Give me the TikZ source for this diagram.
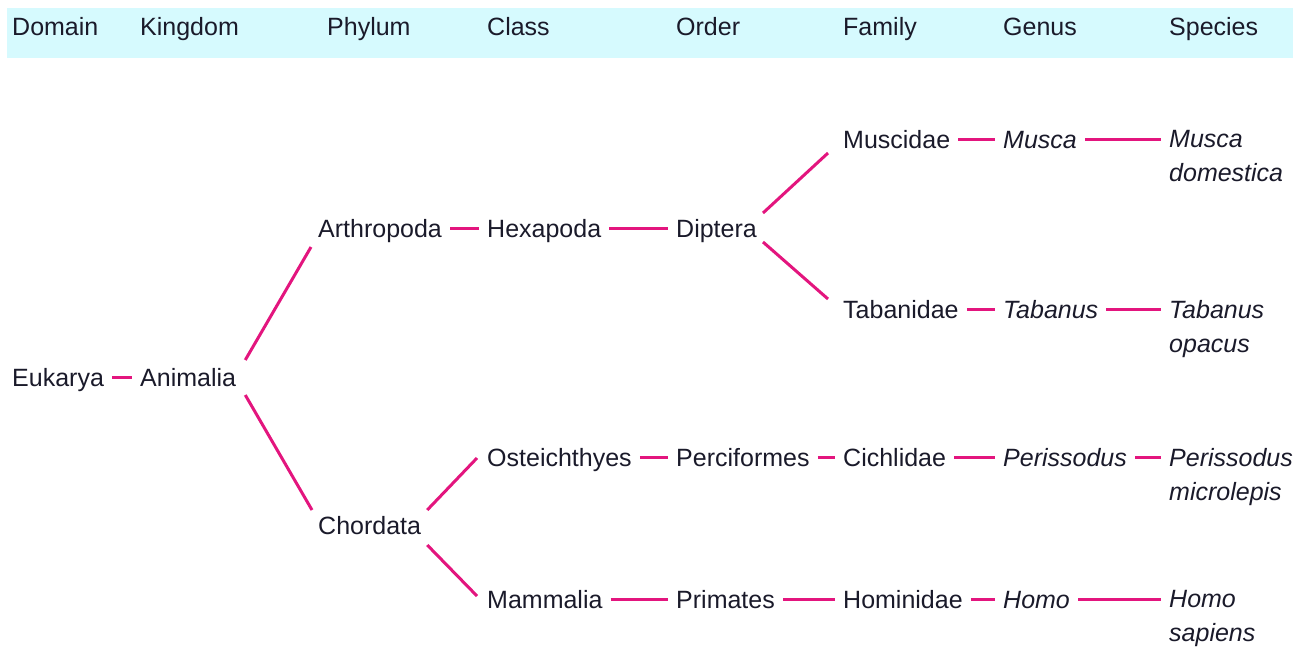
\documentclass[tikz,border=0pt]{standalone}
\usepackage{fontspec}
\setmainfont{Liberation Sans}
\usetikzlibrary{calc}
\definecolor{band}{HTML}{D6FAFE}
\definecolor{link}{HTML}{E3157E}
\definecolor{ink}{HTML}{1A1A2A}
\begin{document}
\begin{tikzpicture}[x=1pt,y=-1pt,
 tx/.style={anchor=west,inner xsep=8pt,inner ysep=0pt,text height=18pt,text depth=0pt,font=\fontsize{25}{30}\selectfont,text=ink},
 it/.style={tx,font=\fontsize{25}{30}\selectfont\itshape},
 sp/.style={anchor=north west,inner xsep=8pt,inner ysep=0pt,align=left,font=\fontsize{25}{34}\selectfont\itshape,text=ink},
 hd/.style={anchor=west,inner sep=0pt,text height=18pt,text depth=0pt,font=\fontsize{25}{30}\selectfont,text=ink},
 ln/.style={draw=link,line width=3pt}]
\useasboundingbox (0,0) rectangle (1304,648);
\fill[band] (7,8) rectangle (1293,58);
% header
\node[hd] (hdomain) at (12,26) {Domain};
\node[hd] (hkingdom) at (140,26) {Kingdom};
\node[hd] (hphylum) at (327,26) {Phylum};
\node[hd] (hclass) at (487,26) {Class};
\node[hd] (horder) at (676,26) {Order};
\node[hd] (hfamily) at (843,26) {Family};
\node[hd] (hgenus) at (1003,26) {Genus};
\node[hd] (hspecies) at (1169,26) {Species};
% taxa
\node[tx] (eukarya) at (4,377) {Eukarya};
\node[tx] (animalia) at (132,377) {Animalia};
\node[tx] (arthropoda) at (310,228) {Arthropoda};
\node[tx] (chordata) at (310,525) {Chordata};
\node[tx] (hexapoda) at (479,228) {Hexapoda};
\node[tx] (diptera) at (668,228) {Diptera};
\node[tx] (osteich) at (479,457) {Osteichthyes};
\node[tx] (mammalia) at (479,599) {Mammalia};
\node[tx] (muscidae) at (835,139) {Muscidae};
\node[tx] (tabanidae) at (835,309) {Tabanidae};
\node[tx] (perciformes) at (668,457) {Perciformes};
\node[tx] (primates) at (668,599) {Primates};
\node[tx] (cichlidae) at (835,457) {Cichlidae};
\node[tx] (hominidae) at (835,599) {Hominidae};
\node[it] (musca) at (995,139) {Musca};
\node[it] (tabanus) at (995,309) {Tabanus};
\node[it] (perissodus) at (995,457) {Perissodus};
\node[it] (homo) at (995,599) {Homo};
\node[sp] (sp1) at (1161,130) {Musca\\domestica};
\node[sp] (sp2) at (1161,300) {Tabanus\\opacus};
\node[sp] (sp3) at (1161,448) {Perissodus\\microlepis};
\node[sp] (sp4) at (1161,590) {Homo\\sapiens};
% connectors
\draw[ln] (eukarya.east) -- (animalia.west);
\draw[ln] ($(animalia.east)+(1,-17)$) -- ($(arthropoda.west)+(1,19)$);
\draw[ln] ($(animalia.east)+(1,18)$) -- ($(chordata.west)+(2,-15)$);
\draw[ln] (arthropoda.east) -- (hexapoda.west);
\draw[ln] (hexapoda.east) -- (diptera.west);
\draw[ln] ($(diptera.east)+(-2,-15)$) -- ($(muscidae.west)+(-7,14)$);
\draw[ln] ($(diptera.east)+(-2,14)$) -- ($(tabanidae.west)+(-7,-10)$);
\draw[ln] (muscidae.east) -- (musca.west);
\draw[ln] (musca.east) -- (musca.east -| sp1.west);
\draw[ln] (tabanidae.east) -- (tabanus.west);
\draw[ln] (tabanus.east) -- (tabanus.east -| sp2.west);
\draw[ln] ($(chordata.east)+(-2,-15)$) -- ($(osteich.west)+(-2,1)$);
\draw[ln] ($(chordata.east)+(-2,20)$) -- ($(mammalia.west)+(-2,-3)$);
\draw[ln] (osteich.east) -- (perciformes.west);
\draw[ln] (perciformes.east) -- (cichlidae.west);
\draw[ln] (cichlidae.east) -- (perissodus.west);
\draw[ln] (perissodus.east) -- (perissodus.east -| sp3.west);
\draw[ln] (mammalia.east) -- (primates.west);
\draw[ln] (primates.east) -- (hominidae.west);
\draw[ln] (hominidae.east) -- (homo.west);
\draw[ln] (homo.east) -- (homo.east -| sp4.west);
\end{tikzpicture}
\end{document}
